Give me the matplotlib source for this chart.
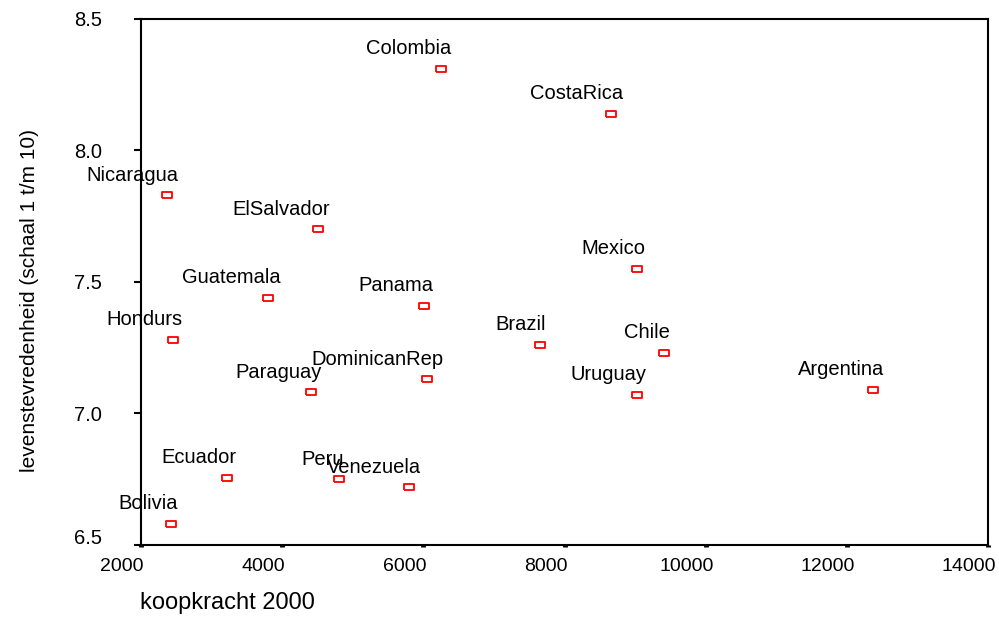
import matplotlib.pyplot as plt
import matplotlib.transforms as mtransforms

plt.rcParams['font.family'] = ['Liberation Sans', 'DejaVu Sans']

# koopkracht 2000 vs levenstevredenheid
countries = ["Colombia", "CostaRica", "Nicaragua", "ElSalvador", "Mexico",
             "Guatemala", "Panama", "Hondurs", "Brazil", "Chile",
             "DominicanRep", "Paraguay", "Uruguay", "Argentina", "Ecuador",
             "Peru", "Venezuela", "Bolivia"]
koopkracht = [6250, 8660, 2370, 4510, 9030,
              3800, 6010, 2450, 7650, 9410,
              6050, 4410, 9030, 12370, 3220,
              4800, 5800, 2420]
tevredenheid = [8.31, 8.14, 7.83, 7.70, 7.55,
                7.44, 7.41, 7.28, 7.26, 7.23,
                7.13, 7.08, 7.07, 7.09, 6.755,
                6.75, 6.72, 6.58]

xticks = [2000, 4000, 6000, 8000, 10000, 12000, 14000]
yticks = [6.5, 7.0, 7.5, 8.0, 8.5]

fig = plt.figure(figsize=(9.99, 6.39), dpi=100)
ax = fig.add_axes([0.1411, 0.1471, 0.848, 0.8232])

# hollow flat rectangle marker
rect = [(-1, -0.55), (1, -0.55), (1, 0.55), (-1, 0.55), (-1, -0.55)]
ax.scatter(koopkracht, tevredenheid, marker=rect, s=60, facecolors='white',
           edgecolors='#ff0000', linewidths=1.3, zorder=3)

labels = []
for name, x, y in zip(countries, koopkracht, tevredenheid):
    t = ax.annotate(name, (x, y), xytext=(0, 14.5), textcoords='offset points',
                    ha='center', va='center', fontsize=14.5)
    labels.append(t)

ax.set_xlim(2000, 14000)
ax.set_ylim(6.5, 8.5)
ax.set_xticks(xticks)
ax.set_yticks(yticks)
ax.set_yticklabels([f"{v:.1f}" for v in yticks])

for s in ax.spines.values():
    s.set_linewidth(1.5)
    s.set_color('black')

ax.tick_params(axis='x', direction='out', length=1.5, width=3.5, labelsize=14, pad=8)
ax.tick_params(axis='y', direction='out', length=5, width=1.5, labelsize=14.5, pad=23)

# SPSS style: x tick labels sit a bit left of the ticks
shift = mtransforms.ScaledTranslation(-19 / 100, 0, fig.dpi_scale_trans)
for lbl in ax.get_xticklabels():
    lbl.set_transform(lbl.get_transform() + shift)
up = mtransforms.ScaledTranslation(0, 9 / 100, fig.dpi_scale_trans)
lowest = ax.get_yticklabels()[0]
lowest.set_transform(lowest.get_transform() + up)

fig.text(140 / 999, 1 - 603 / 639, "koopkracht 2000", fontsize=17,
         ha='left', va='center')
fig.text(30 / 999, 1 - 300 / 639, "levenstevredenheid (schaal 1 t/m 10)",
         fontsize=15, rotation=90, ha='center', va='center')

# point labels sit left of the marker, shifted by a share of their width
renderer = fig.canvas.get_renderer()
for t in labels:
    w = t.get_window_extent(renderer).width * 72 / fig.dpi
    t.xyann = (-0.375 * w, 14.5)

fig.savefig("out.png", dpi=100)
